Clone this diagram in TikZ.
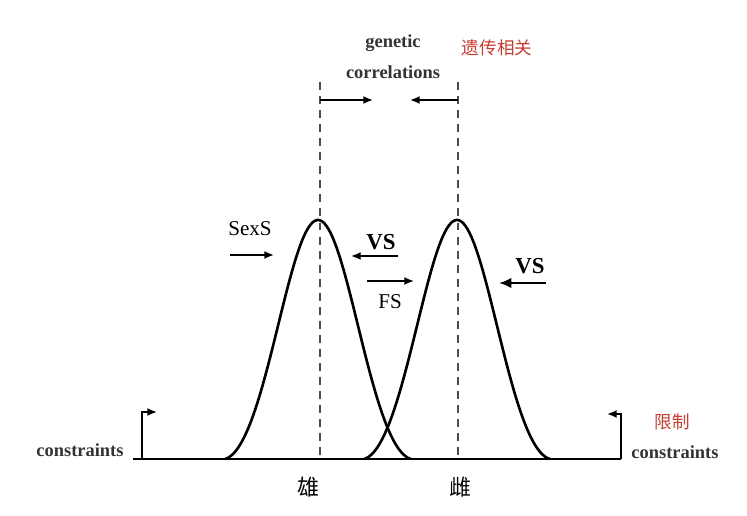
\documentclass[tikz,border=0pt]{standalone}
\usepackage{fontspec}
\setmainfont{Liberation Serif}
\newfontfamily\cjk{Noto Sans CJK SC}
\usetikzlibrary{arrows.meta}

\begin{document}
\begin{tikzpicture}[x=0.02cm,y=-0.02cm,>=Latex,thick]
\definecolor{note}{RGB}{196,62,48}
\tikzset{curve/.style={line width=1.5pt,line join=round},
  guide/.style={dash pattern=on 4.5pt off 3.5pt,line width=0.9pt,black!70},
  push/.style={->,line width=0.9pt,>={Latex[length=5.5pt,width=4.5pt]}},
  heavy/.style={->,line width=1.7pt,>={Latex[length=7pt,width=6pt]}},
  label/.style={font=\fontsize{12}{14}\selectfont},
  tag/.style={font=\bfseries\fontsize{10.5}{12}\selectfont,black!80},
  big/.style={font=\bfseries\fontsize{13}{15}\selectfont},
  cn/.style={text=note,font=\cjk\fontsize{10}{12}\selectfont},
  sex/.style={font=\cjk\fontsize{12.5}{14}\selectfont}}
\useasboundingbox (0,0) rectangle (747,516);

\coordinate (L) at (133,459);
\coordinate (R) at (621,459);
\coordinate (Lc) at (142,459);
\coordinate (Lt) at (157,412);
\coordinate (Rt) at (607,414);
\coordinate (Mtop) at (320,82);
\coordinate (Mbot) at (320,459);
\coordinate (Ftop) at (458,82);
\coordinate (Fbot) at (458,459);

% Baseline and the two constraint brackets.
\draw[line width=1.6pt] (L)--(R);
\draw[push] (Lc) |- (Lt);
\draw[push] (R) |- (Rt);

% Trait distributions of the two sexes (bell: half cosine, half normal).
\draw[curve,shift={(318,459)}] plot[domain=-93:93,samples=100]
  (\x,{-239*(0.25*(1+cos(\x*1.9355))+0.5*(exp(-(\x*\x)/2450)-0.0293)/0.9707)});
\draw[curve,shift={(457,459)}] plot[domain=-93:93,samples=100]
  (\x,{-239*(0.25*(1+cos(\x*1.9355))+0.5*(exp(-(\x*\x)/2450)-0.0293)/0.9707)});

% Mean positions.
\draw[guide] (Mtop)--(Mbot);
\draw[guide] (Ftop)--(Fbot);

% Genetic correlations pulling the means together.
\coordinate (ga) at (320,100);
\coordinate (gb) at (373,100);
\coordinate (gc) at (458,100);
\coordinate (gd) at (410,100);
\draw[push] (ga)--(gb);
\draw[push] (gc)--(gd);
\node[tag] (gen) at (393,43) {genetic};
\node[tag] (cor) at (393,72) {correlations};
\node[cn] (ycxg) at (497,48) {遗传相关};

% Selection pressures.
\coordinate (sa) at (230,255);
\coordinate (sb) at (274,255);
\coordinate (va) at (398,256);
\coordinate (vb) at (351,256);
\coordinate (fa) at (367,281);
\coordinate (fb) at (414,281);
\coordinate (wa) at (546,283);
\coordinate (wb) at (499,283);
\draw[push] (sa)--(sb);
\draw[push] (va)--(vb);
\draw[push] (fa)--(fb);
\draw[heavy] (wa)--(wb);
\node[label] (sexs) at (250,229) {SexS};
\node[big] (vsl) at (381,242) {VS};
\node[label] (fs) at (390,302) {FS};
\node[big] (vsr) at (530,266) {VS};

% Labels at the baseline.
\node[tag] (conl) at (80,450) {constraints};
\node[tag] (conr) at (675,452) {constraints};
\node[cn] (xz) at (672,422) {限制};
\node[sex] (male) at (308,487) {雄};
\node[sex] (female) at (460,487) {雌};
\end{tikzpicture}
\end{document}
